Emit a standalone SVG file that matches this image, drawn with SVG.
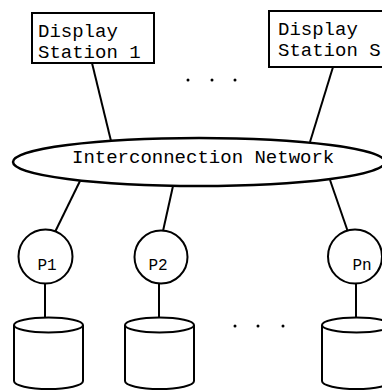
<svg xmlns="http://www.w3.org/2000/svg" width="382" height="391" viewBox="0 0 382 391">
<style>
.s{fill:#fff;stroke:#000;stroke-width:2}
.c{fill:none;stroke:#000;stroke-width:2}
.t{font-family:"Liberation Mono","DejaVu Sans Mono",monospace;font-size:19px;fill:#000}
.p{font-family:"Liberation Mono","DejaVu Sans Mono",monospace;font-size:16px;fill:#000}
.d{fill:#000}
</style>
<rect width="382" height="391" fill="#fff"/>
<g id="connectors">
<line class="c" x1="92" y1="63" x2="111" y2="141"/>
<line class="c" x1="333" y1="67" x2="310" y2="142"/>
<line class="c" x1="80" y1="181" x2="55" y2="232"/>
<line class="c" x1="173" y1="186" x2="163" y2="231"/>
<line class="c" x1="330" y1="180" x2="348" y2="232"/>
<line class="c" x1="45" y1="283" x2="45" y2="324"/>
<line class="c" x1="159" y1="283" x2="159" y2="325"/>
<line class="c" x1="356" y1="283" x2="356" y2="324"/>
</g>
<g id="display1">
<rect class="s" x="32" y="13" width="122" height="50"/>
<text class="t" x="38" y="37">Display</text>
<text class="t" x="38" y="58">Station 1</text>
</g>
<g id="displayS">
<rect class="s" x="269" y="11" width="125" height="56"/>
<text class="t" x="278" y="35">Display</text>
<text class="t" x="278" y="56">Station S</text>
</g>
<g id="dots-top">
<circle class="d" cx="188" cy="80" r="1.5"/>
<circle class="d" cx="212" cy="80" r="1.5"/>
<circle class="d" cx="235" cy="80" r="1.5"/>
</g>
<g id="network">
<ellipse cx="199" cy="162" rx="186" ry="24" fill="#fff" stroke="#000" stroke-width="2.5"/>
<text class="t" x="72" y="163">Interconnection Network</text>
</g>
<g id="p1">
<circle class="s" cx="45.5" cy="256.5" r="27"/>
<text class="p" x="47" y="270" text-anchor="middle">P1</text>
</g>
<g id="p2">
<circle class="s" cx="161" cy="257" r="26.5"/>
<text class="p" x="158" y="270" text-anchor="middle">P2</text>
</g>
<g id="pn">
<circle class="s" cx="355" cy="256.5" r="27"/>
<text class="p" x="362" y="270" text-anchor="middle">Pn</text>
</g>
<g id="disk1">
<path class="s" d="M14,325 V381 A34.5,8 0 0 0 83,381 V325"/>
<ellipse class="s" cx="48.5" cy="325" rx="34.5" ry="7.5"/>
</g>
<g id="disk2">
<path class="s" d="M125,325 V381 A34.5,8 0 0 0 194,381 V325"/>
<ellipse class="s" cx="159.5" cy="325" rx="34.5" ry="7.5"/>
</g>
<g id="diskn">
<path class="s" d="M322,325 V381 A34.5,8 0 0 0 391,381 V325"/>
<ellipse class="s" cx="356.5" cy="325" rx="34.5" ry="7.5"/>
</g>
<g id="dots-bottom">
<circle class="d" cx="235" cy="326" r="1.5"/>
<circle class="d" cx="258" cy="326" r="1.5"/>
<circle class="d" cx="283" cy="326" r="1.5"/>
</g>
</svg>
